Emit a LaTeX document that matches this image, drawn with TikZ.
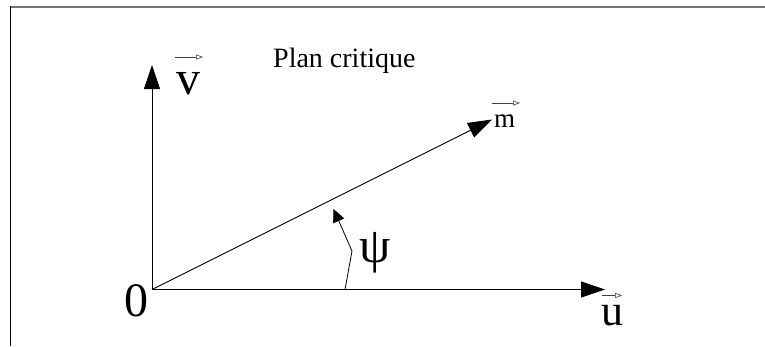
\documentclass[tikz,border=0pt]{standalone}
\usepackage{fontspec}
\setmainfont{Liberation Serif}
\usetikzlibrary{arrows.meta}
\tikzset{
  axis/.style={line width=0.9pt, -{Triangle[length=24pt,width=16pt]}},
  anglearrow/.style={line width=0.8pt, -{Triangle[length=13pt,width=12pt]}},
  vecmark/.style={line width=0.6pt, draw=black!75, -{Triangle[length=7pt,width=5pt,open]}},
  lbl/.style={inner sep=0pt, anchor=base},
}
\begin{document}
\begin{tikzpicture}[x=1pt,y=-1pt]
\useasboundingbox (0,0) rectangle (765,346);
% frame
\draw[line width=2pt, draw=black!55] (10,6.5) -- (765,6.5);
\draw[line width=1.5pt] (10.5,6) -- (10.5,346);
% points
\coordinate (O) at (152,289.5);
\coordinate (V) at (152,65);
\coordinate (U) at (605,289.5);
\coordinate (M) at (492,119.5);
\coordinate (P1) at (345,289.5);
\coordinate (P2) at (352,251);
\coordinate (P3) at (333.5,209);
% arrows
\draw[axis] (O) -- (V);
\draw[axis] (O) -- (U);
\draw[axis] (O) -- (M);
\draw[anglearrow] (P1) -- (P2) -- (P3);
% labels
\node[lbl, anchor=base west] (title) at (273,67) {\fontsize{28}{30}\selectfont Plan critique};
\node[lbl] (lv) at (188,94) {\fontsize{48}{50}\selectfont v};
\node[lbl] (lm) at (504.5,127) {\fontsize{27}{29}\selectfont m};
\node[lbl] (lu) at (612.5,325) {\fontsize{44}{46}\selectfont u};
\node[lbl] (lo) at (136,316) {\fontsize{48}{50}\selectfont 0};
\node[lbl] (lpsi) at (375,262) {\fontsize{50}{52}\selectfont ψ};
% vector marks
\coordinate (va) at (175,57);  \coordinate (vb) at (203,57);
\coordinate (ma) at (492,103); \coordinate (mb) at (520,103);
\coordinate (ua) at (602,295.5); \coordinate (ub) at (622,295.5);
\draw[vecmark] (va) -- (vb);
\draw[vecmark] (ma) -- (mb);
\draw[vecmark] (ua) -- (ub);
\end{tikzpicture}
\end{document}
